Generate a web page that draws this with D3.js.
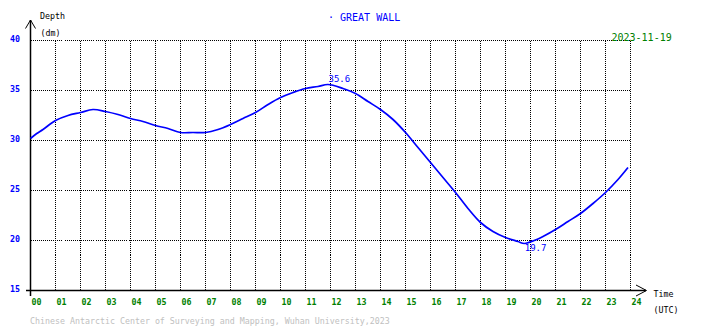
<!DOCTYPE html>
<html>
<head>
<meta charset="utf-8">
<script src="https://cdn.jsdelivr.net/npm/d3@7"></script>
<style>
  html, body { margin: 0; padding: 0; background: #fff; }
  svg { display: block; }
  text { font-family: "DejaVu Sans Mono", "Liberation Mono", monospace; }
</style>
</head>
<body>
<svg id="chart" width="710" height="328"></svg>
<script>
// Tide gauge record, GREAT WALL station, 2023-11-19 (depth in dm, time in UTC hours)
const hours = [0, 0.25, 0.5, 1, 1.5, 2, 2.5, 3, 3.5, 4, 4.5, 5, 5.5, 6, 6.5, 7, 7.5, 8, 8.5,
  9, 9.5, 10, 10.5, 11, 11.5, 11.9, 12.5, 13, 13.5, 14, 14.5, 15, 15.5, 16, 16.5, 17,
  17.5, 18, 18.5, 19, 19.5, 19.75, 20.25, 20.5, 21, 21.5, 22, 22.5, 23, 23.5, 23.9];
const depth = [30.2, 30.7, 31.1, 32.0, 32.5, 32.8, 33.1, 32.9, 32.6, 32.2, 31.9, 31.5, 31.2,
  30.8, 30.8, 30.8, 31.1, 31.6, 32.2, 32.8, 33.6, 34.3, 34.8, 35.2, 35.4, 35.6, 35.2,
  34.7, 33.9, 33.1, 32.1, 30.8, 29.3, 27.8, 26.3, 24.8, 23.2, 21.8, 20.9, 20.3, 19.9,
  19.7, 20.1, 20.4, 21.1, 21.9, 22.7, 23.7, 24.8, 26.1, 27.3];

const xTickValues = d3.range(0, 25);
const xTickLabels = ["00","01","02","03","04","05","06","07","08","09","10","11",
  "12","13","14","15","16","17","18","19","20","21","22","23","24"];
const yTickValues = [15, 20, 25, 30, 35, 40];
const yTickLabels = ["15", "20", "25", "30", "35", "40"];

const stationName = "GREAT WALL";
const dateLabel = "2023-11-19";
const footerText = "Chinese Antarctic Center of Surveying and Mapping, Wuhan University,2023";

const svg = d3.select("#chart");
const x = d3.scaleLinear().domain([0, 24]).range([30.5, 630.5]);
const y = d3.scaleLinear().domain([15, 40]).range([290.5, 40.5]);

// Dotted grid
const grid = svg.append("g").attr("shape-rendering", "crispEdges")
  .attr("stroke", "#000").attr("stroke-width", 1).attr("stroke-dasharray", "1,1");
grid.selectAll("line.v").data(xTickValues.slice(1)).join("line").attr("class", "v")
  .attr("x1", d => x(d)).attr("x2", d => x(d)).attr("y1", y(40)).attr("y2", y(15));
grid.selectAll("line.h").data(yTickValues.slice(1)).join("line").attr("class", "h")
  .attr("x1", x(0)).attr("x2", x(24)).attr("y1", d => y(d)).attr("y2", d => y(d));

// Tick labels through d3 axes
const xAxis = d3.axisBottom(x).tickValues(xTickValues)
  .tickFormat((d, i) => xTickLabels[i]).tickSize(0).tickPadding(0);
const gx = svg.append("g").attr("transform", "translate(0,290)").call(xAxis);
gx.select(".domain").remove();
gx.selectAll("text").attr("text-anchor", "start").attr("dy", null).attr("y", 14.5)
  .attr("x", 0.5).attr("fill", "#008000").attr("font-size", "8.3px")
  .attr("font-weight", "bold")
  .style("font-family", "'DejaVu Sans Mono', monospace");

const yAxis = d3.axisLeft(y).tickValues(yTickValues)
  .tickFormat((d, i) => yTickLabels[i]).tickSize(0).tickPadding(0);
const gy = svg.append("g").attr("transform", "translate(20,0)").call(yAxis);
gy.select(".domain").remove();
gy.selectAll("text").attr("text-anchor", "end").attr("dy", null).attr("y", 0.8)
  .attr("x", 0).attr("fill", "#0000ff").attr("font-size", "8.3px")
  .attr("font-weight", "bold")
  .style("font-family", "'DejaVu Sans Mono', monospace");

// Main axes with arrow heads
const axes = svg.append("g").attr("stroke", "#000").attr("fill", "none")
  .attr("stroke-width", 1.5);
axes.append("line").attr("x1", 30.5).attr("x2", 30.5).attr("y1", 20).attr("y2", 296);
axes.append("polyline").attr("points", "25.5,28.5 30.5,20 35.5,28.5").attr("stroke-width", 1);
axes.append("line").attr("x1", 26).attr("x2", 646).attr("y1", 290.5).attr("y2", 290.5);
axes.append("polyline").attr("points", "636,285 646.5,290.5 636,296").attr("stroke-width", 1);

// Tide curve
const line = d3.line().curve(d3.curveCatmullRom)
  .x((d, i) => x(hours[i])).y(d => y(d));
svg.append("path").datum(depth).attr("d", line).attr("fill", "none")
  .attr("stroke", "#0000ff").attr("stroke-width", 1.7).attr("stroke-linejoin", "round");

// High / low water annotations
const iMax = d3.maxIndex(depth), iMin = d3.minIndex(depth);
svg.append("text").attr("x", x(hours[iMax]) + 0.5).attr("y", y(depth[iMax]) - 2.5)
  .attr("fill", "#0000ff").attr("font-size", "9px").text(depth[iMax].toFixed(1));
svg.append("text").attr("x", x(hours[iMin]) + 0.5).attr("y", y(depth[iMin]) + 7.5)
  .attr("fill", "#0000ff").attr("font-size", "9px").text(depth[iMin].toFixed(1));

// Titles and axis captions
svg.append("text").attr("x", 328).attr("y", 21).attr("fill", "#0000ff")
  .attr("font-size", "10px").text("\u00b7 " + stationName);
svg.append("text").attr("x", 611.5).attr("y", 40.5).attr("fill", "#008000")
  .attr("font-size", "10px").text(dateLabel);
svg.append("text").attr("x", 40).attr("y", 18.5).attr("fill", "#000")
  .attr("font-size", "8.3px").text("Depth");
svg.append("text").attr("x", 40.5).attr("y", 35.5).attr("fill", "#000")
  .attr("font-size", "8.3px").text("(dm)");
svg.append("text").attr("x", 653.5).attr("y", 297).attr("fill", "#000")
  .attr("font-size", "8.3px").text("Time");
svg.append("text").attr("x", 653.5).attr("y", 312.5).attr("fill", "#000")
  .attr("font-size", "8.3px").text("(UTC)");
svg.append("text").attr("x", 30).attr("y", 323.5).attr("fill", "#c0c0c0")
  .attr("font-size", "8.3px").text(footerText);
</script>
</body>
</html>
